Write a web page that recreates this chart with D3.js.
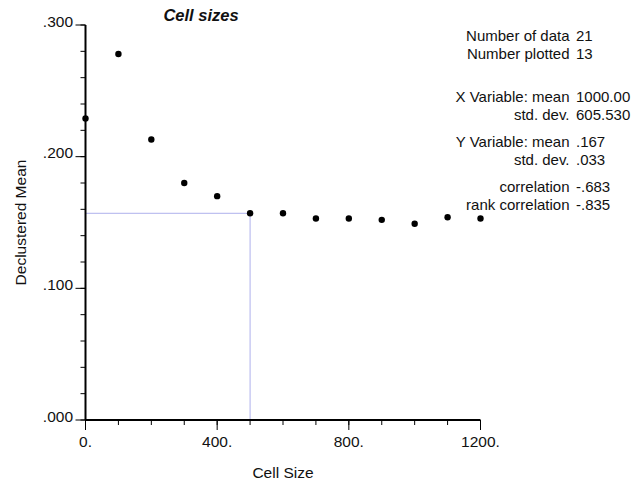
<!DOCTYPE html>
<html><head><meta charset="utf-8">
<script src="https://cdn.jsdelivr.net/npm/d3@7"></script>
<style>body{margin:0;background:#fff}svg{display:block}text{font-family:"Liberation Sans",Arial,Helvetica,sans-serif;fill:#111}</style>
</head><body>
<script>
const cellSizes = [0,100,200,300,400,500,600,700,800,900,1000,1100,1200];
const declusteredMean = [0.229,0.278,0.213,0.180,0.170,0.157,0.157,0.153,0.153,0.152,0.149,0.154,0.153];
const xMajorTicks = [0,400,800,1200];
const xTickLabels = ["0.","400.","800.","1200."];
const yMajorTicks = [0,0.1,0.2,0.3];
const yTickLabels = [".000",".100",".200",".300"];
const selected = {x:500, y:0.157};
const statLabels = ["Number of data","Number plotted","X Variable: mean","std. dev.","Y Variable: mean","std. dev.","correlation","rank correlation"];
const statValues = ["21","13","1000.00","605.530",".167",".033","-.683","-.835"];
const statRowY = [41,59,102,120,147,165,192,210];

const W=633,H=485;
const svg=d3.select("body").append("svg").attr("width",W).attr("height",H);
const x=d3.scaleLinear().domain([0,1200]).range([85.5,480.5]);
const y=d3.scaleLinear().domain([0,0.3]).range([420,25]);

// reference lines
svg.append("line").attr("x1",x(0)).attr("x2",x(selected.x)).attr("y1",y(selected.y)).attr("y2",y(selected.y))
  .attr("stroke","#aeb0ec").attr("stroke-width",1);
svg.append("line").attr("x1",x(selected.x)).attr("x2",x(selected.x)).attr("y1",y(0)).attr("y2",y(selected.y))
  .attr("stroke","#aeb0ec").attr("stroke-width",1);

// minor ticks
const xMinor=d3.range(0,1201,100), yMinor=d3.range(0,0.3001,0.02);
svg.append("g").selectAll("line").data(xMinor).join("line")
  .attr("x1",d=>x(d)).attr("x2",d=>x(d)).attr("y1",y(0)).attr("y2",y(0)+5)
  .attr("stroke","#000").attr("stroke-width",1);
svg.append("g").selectAll("line").data(yMinor).join("line")
  .attr("x1",x(0)-5).attr("x2",x(0)).attr("y1",d=>y(d)).attr("y2",d=>y(d))
  .attr("stroke","#000").attr("stroke-width",1);
// major ticks
svg.append("g").selectAll("line").data(xMajorTicks).join("line")
  .attr("x1",d=>x(d)).attr("x2",d=>x(d)).attr("y1",y(0)).attr("y2",y(0)+10)
  .attr("stroke","#000").attr("stroke-width",1);
svg.append("g").selectAll("line").data(yMajorTicks).join("line")
  .attr("x1",x(0)-10).attr("x2",x(0)).attr("y1",d=>y(d)).attr("y2",d=>y(d))
  .attr("stroke","#000").attr("stroke-width",1);
// axis lines
svg.append("line").attr("x1",x(0)).attr("x2",x(1200)).attr("y1",y(0)).attr("y2",y(0)).attr("stroke","#000").attr("stroke-width",2);
svg.append("line").attr("x1",x(0)).attr("x2",x(0)).attr("y1",y(0)).attr("y2",y(0.3)).attr("stroke","#000").attr("stroke-width",2);

// tick labels
svg.append("g").selectAll("text").data(xMajorTicks).join("text")
  .attr("x",d=>x(d)).attr("y",447).attr("text-anchor","middle").attr("font-size",15.5)
  .text((d,i)=>xTickLabels[i]);
svg.append("g").selectAll("text").data(yMajorTicks).join("text")
  .attr("x",73).attr("y",d=>y(d)+1.5).attr("text-anchor","end").attr("font-size",15.5)
  .text((d,i)=>yTickLabels[i]);

// axis titles
svg.append("text").attr("x",(x(0)+x(1200))/2).attr("y",478).attr("text-anchor","middle").attr("font-size",15.5).text("Cell Size");
svg.append("text").attr("transform",`translate(25.5,${(y(0)+y(0.3))/2}) rotate(-90)`).attr("text-anchor","middle").attr("font-size",15.5).text("Declustered Mean");
svg.append("text").attr("x",201).attr("y",21).attr("text-anchor","middle").attr("font-size",16.5)
  .attr("font-weight","bold").attr("font-style","italic").text("Cell sizes");

// points
svg.append("g").selectAll("circle").data(cellSizes).join("circle")
  .attr("cx",d=>x(d)).attr("cy",(d,i)=>y(declusteredMean[i])).attr("r",3.2).attr("fill","#000");

// stats
const st=svg.append("g");
st.selectAll("text.l").data(statLabels).join("text").attr("class","l")
  .attr("x",569.5).attr("y",(d,i)=>statRowY[i]).attr("text-anchor","end").attr("font-size",15).text(d=>d);
st.selectAll("text.v").data(statValues).join("text").attr("class","v")
  .attr("x",576).attr("y",(d,i)=>statRowY[i]).attr("font-size",15).text(d=>d);
</script>
</body></html>
